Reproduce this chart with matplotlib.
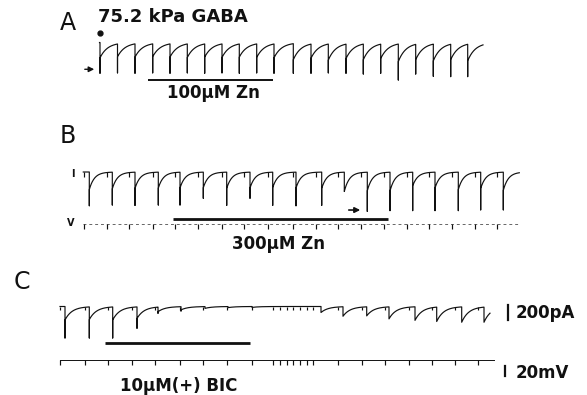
import numpy as np
import matplotlib
matplotlib.use("Agg")
import matplotlib.pyplot as plt

# ---- data (time in s, current in pA, voltage in mV) ----
# A: 75.2 kPa GABA, 100uM Zn
a_stim = [0.0, 1.75, 3.5, 5.27, 7.0, 8.73, 10.47, 12.2, 13.93, 15.67, 17.4,
          19.33, 21.1, 22.83, 24.6, 26.33, 28.07, 29.83, 31.57, 33.33, 35.07, 36.77]
a_peak = [205, 190, 195, 190, 195, 200, 195, 200, 195, 200, 205,
          230, 210, 235, 215, 230, 215, 255, 230, 245, 230, 245]
a_artifact = [410, 405, 410, 405, 410, 405, 410, 405, 410, 405, 410,
              410, 410, 405, 410, 420, 410, 500, 420, 450, 455, 455]
a_end = 38.3
a_zn = (4.8, 17.3)

# B: I and V, 300uM Zn
b_stim = [-1.07, 1.23, 3.5, 5.83, 8.0, 10.33, 12.67, 15.0, 17.27, 19.6,
          22.17, 24.43, 26.73, 29.0, 31.27, 33.5, 35.83, 38.07, 40.33]
b_peak = [235, 225, 220, 215, 215, 210, 220, 215, 210, 215,
          220, 260, 250, 255, 185, 215, 235, 220, 245]
b_artifact = [450, 440, 445, 440, 440, 350, 445, 350, 445, 450,
              445, 260, 525, 515, 515, 515, 515, 505, 505]
b_vstep = [-1.56, 0.7, 2.93, 5.27, 7.5, 9.83, 12.17, 14.4, 16.83, 19.25,
           21.6, 23.83, 26.1, 28.4, 30.67, 32.93, 35.23, 37.5, 39.73]
b_start, b_end = -1.67, 41.93
b_zn = (7.3, 28.8)
b_arrow = (24.6, 26.3)

# C: I and V, 10uM (+) bicuculline
c_stim = [-3.5, -1.07, 1.27, 3.7, 5.8, 8.1, 10.5, 12.8, 15.2,
          22.1, 24.3, 26.67, 28.9, 31.5, 33.67, 36.17, 38.4]
c_peak = [180, 175, 180, 160, 70, 45, 25, 15, 12,
          80, 130, 125, 165, 185, 200, 210, 210]
c_artifact = [420, 420, 420, 290, 90, 60, 25, 15, 12,
              80, 130, 125, 165, 185, 200, 210, 210]
c_vstep = [-4.0, -1.5, 0.83, 3.17, 5.5, 8.0, 10.33, 12.67, 15.17, 17.33,
           18.0, 18.67, 19.33, 20.0, 20.67, 21.33, 23.83, 26.17, 28.5,
           30.85, 33.17, 35.5, 37.83]
c_start, c_end = -4.0, 39.0
c_v_end = 39.4
c_bic = (0.5, 15.0)

notch_pa = 65      # small current blip at each voltage step
vstep_mv = 9       # size of the voltage deflections
bar_pa = 200
bar_mv = 20

# ---- layout ----
W, H = 587, 395
PA_PX = 200 / 15.0
MV_PX = 2.0
T0_PX, PX_S = 100, 10.0

fig = plt.figure(figsize=(W / 100, H / 100), dpi=100)
plt.rcParams["font.family"] = ["DejaVu Sans"]


def band(top, bottom, zero, per_px):
    ax = fig.add_axes([0, 1 - bottom / H, 1, (bottom - top) / H])
    ax.set_xlim(-T0_PX / PX_S, (W - T0_PX) / PX_S)
    ax.set_ylim(-(bottom - zero) * per_px, (zero - top) * per_px)
    ax.axis("off")
    return ax


def trace(stim, peak, art, t_start, t_end, tau, n=50):
    ts, ys = [t_start, stim[0]], [0.0, 0.0]
    for i, t0 in enumerate(stim):
        t1 = stim[i + 1] if i + 1 < len(stim) else t_end
        ts += [t0, t0]
        ys += [-art[i], -peak[i]]
        seg = np.linspace(t0, t1, n)[1:]
        ts += list(seg)
        ys += list(-peak[i] * np.exp(-(seg - t0) / tau))
    return ts, ys


def ftext(x, y, s, **kw):
    fig.text(x / W, 1 - y / H, s, **kw)


lab = dict(fontsize=12, fontweight="bold", color="#111111")
lw = 0.85
k = "#111111"

# panel A
axA = band(0, 125, 42.5, PA_PX)
t, y = trace(a_stim, a_peak, a_artifact, -0.05, a_end, 0.75)
axA.plot(t, y, color=k, lw=lw)
axA.plot([a_stim[0]], [123], "o", color=k, ms=3.5)
axA.annotate("", xy=(-0.3, -357), xytext=(-1.8, -357),
             arrowprops=dict(arrowstyle="-|>", color=k, lw=1.0, mutation_scale=8))
axA.plot(a_zn, [-500, -500], color=k, lw=1.4, solid_capstyle="butt")

# panel B
axBi = band(125, 214, 172, PA_PX)
axBv = band(214, 262, 224, MV_PX)
t, y = trace(b_stim, b_peak, b_artifact, b_start, b_end, 0.5)
axBi.plot(t, y, color=k, lw=lw)
axBi.vlines(b_vstep, -notch_pa, 0, color=k, lw=lw)
axBv.plot([b_start, b_end], [0, 0], color="#666666", lw=0.7, ls=(0, (3, 3)))
axBv.vlines(b_vstep, -vstep_mv, 0, color=k, lw=lw)
axBv.plot(b_zn, [10, 10], color=k, lw=2.0, solid_capstyle="butt")
axBi.annotate("", xy=(b_arrow[1], -507), xytext=(b_arrow[0], -507),
              arrowprops=dict(arrowstyle="-|>", color=k, lw=1.2, mutation_scale=8))

# panel C
axCi = band(262, 352, 306.5, PA_PX)
axCv = band(352, 395, 360, MV_PX)
t, y = trace(c_stim, c_peak, c_artifact, c_start, c_end, 0.7)
axCi.plot(t, y, color=k, lw=lw)
axCi.vlines(c_vstep, -notch_pa * 0.8, 0, color=k, lw=lw)
axCv.plot([c_start, c_v_end], [0, 0], color=k, lw=0.7)
axCv.vlines(c_vstep, -vstep_mv, 0, color=k, lw=lw)
axCi.plot(c_bic, [-493, -493], color=k, lw=2.0, solid_capstyle="butt")

# scale bars
axCi.plot([40.8, 40.8], [20, 20 - bar_pa], color=k, lw=1.6)
axCv.plot([40.5, 40.5], [-11, -11 - bar_mv], color=k, lw=1.6)

# text
ftext(60, 30, "A", fontsize=17, color=k)
ftext(60, 143, "B", fontsize=17, color=k)
ftext(14, 289, "C", fontsize=17, color=k)
ftext(98, 21.7, "75.2 kPa GABA", ha="left", va="baseline",
      fontsize=13, fontweight="bold", color=k)
ftext(213, 98.5, "100\u00b5M Zn", ha="center", va="baseline", **lab)
ftext(279, 249, "300\u00b5M Zn", ha="center", va="baseline", **lab)
ftext(179, 391, "10\u00b5M(+) BIC", ha="center", va="baseline", **lab)
ftext(516, 318, "200pA", ha="left", va="baseline", **lab)
ftext(516, 378, "20mV", ha="left", va="baseline", **lab)
ftext(72.5, 174, "I", ha="center", va="center", fontsize=7, fontweight="bold", color=k)
ftext(71, 223, "V", ha="center", va="center", fontsize=7, fontweight="bold", color=k)

fig.savefig("out.png", dpi=100)
